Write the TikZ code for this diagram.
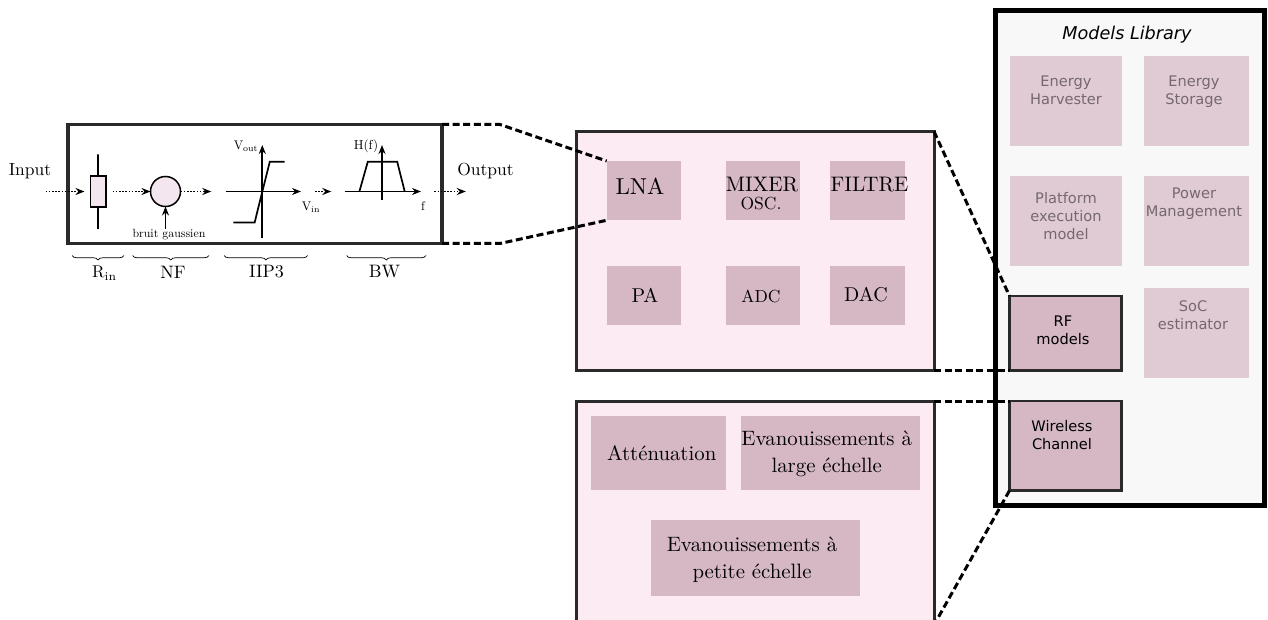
\documentclass[tikz,border=0pt]{standalone}
\usepackage{fontspec}
\newfontfamily\dejavu{DejaVu Sans}
\usetikzlibrary{arrows.meta,fit,decorations.pathreplacing,calc}
\definecolor{panelfill}{HTML}{FDEBF4}
\definecolor{boxfill}{HTML}{D5B8C4}
\definecolor{fadefill}{HTML}{E0CAD3}
\definecolor{libfill}{HTML}{F8F8F8}
\definecolor{fadetext}{HTML}{75696E}
\definecolor{blockedge}{HTML}{2A2A2A}
\definecolor{elemfill}{HTML}{F3E6EF}
\newcommand{\fs}[2]{\fontsize{#1}{#2}\selectfont}
\tikzset{
  x=1pt,y=-1pt,
  panel/.style={draw=blockedge,line width=3pt,fill=panelfill,inner sep=0pt,outer sep=0pt},
  block/.style={draw=blockedge,line width=3.2pt,fill=white,inner sep=0pt,outer sep=0pt},
  library/.style={draw=black,line width=5pt,fill=libfill,inner sep=0pt,outer sep=0pt},
  sub/.style={fill=boxfill,inner sep=0pt,outer sep=0pt},
  fade/.style={fill=fadefill,inner sep=0pt,outer sep=0pt},
  active/.style={draw=blockedge,line width=2.6pt,fill=boxfill,inner sep=0pt,outer sep=0pt},
  lab/.style={inner sep=0pt,outer sep=0pt,align=center,text=black},
  lm/.style 2 args={lab,scale=#1,font=\fs{10}{#2}},
  faded/.style={lab,font=\dejavu\fs{14.6}{18.4},text=fadetext},
  lib/.style={lab,font=\dejavu\fs{14.6}{18.4}},
  link/.style={line width=3pt,dash pattern=on 7pt off 3.6pt,draw=black},
  flow/.style={line width=1.6pt,dash pattern=on 1.6pt off 1.6pt,-{Stealth[length=9pt,width=7pt]}},
  axis/.style={line width=1.7pt,-{Stealth[length=9pt,width=7pt]}},
  trace/.style={line width=1.7pt},
  bracex/.style={draw=black,line width=.7pt,decorate,decoration={brace,mirror,amplitude=4.5pt}},
}
\begin{document}
\begin{tikzpicture}
\useasboundingbox (0,0) rectangle (1268,620);
\clip (0,0) rectangle (1268,620);

% Models library
\node[library,fit={(995,11)(1264,505)}] (library) {};
\node[lab,font=\dejavu\itshape\fs{17.6}{20}] (libtitle) at (1127,35) {Models Library};
\node[fade,fit={(1009.5,56)(1121.7,145.7)}] (harv) {};
\node[fade,fit={(1144,56)(1248.7,145.7)}] (stor) {};
\node[fade,fit={(1009.5,175.7)(1121.7,265.7)}] (plat) {};
\node[fade,fit={(1144,175.7)(1248.7,265.7)}] (pmgt) {};
\node[fade,fit={(1144,288)(1248.7,377.7)}] (soc) {};
\node[active,fit={(1009.5,296)(1121.7,370.5)}] (rf) {};
\node[active,fit={(1009.5,401)(1121.7,490.5)}] (chan) {};
\node[faded] (harvt) at (1066,90) {Energy\\Harvester};
\node[faded] (stort) at (1194,91.5) {Energy\\Storage};
\node[faded] (platt) at (1066,216) {Platform\\execution\\model};
\node[faded] (pmgtt) at (1194,203.5) {Power\\Management};
\node[faded] (soct) at (1193,315) {SoC\\estimator};
\node[lib] (rft) at (1063,330) {RF\\models};
\node[lib] (chant) at (1062,435) {Wireless\\Channel};

% RF panel
\node[panel,fit={(576,131.5)(934,370.5)}] (rfpanel) {};
\node[sub,fit={(606.7,161)(680.7,220.3)}] (lna) {};
\node[sub,fit={(725.7,161)(800.3,220.3)}] (mixer) {};
\node[sub,fit={(830.3,161)(904.7,220.3)}] (filtre) {};
\node[sub,fit={(606.7,265.7)(680.7,325.3)}] (pa) {};
\node[sub,fit={(725.7,265.7)(800.3,325.3)}] (adc) {};
\node[sub,fit={(830.3,265.7)(904.7,325.3)}] (dac) {};
\node[lm={2.3}{12}] (lnat) at (640,186) {LNA};
\node[lm={2.1}{12}] (mixt) at (762,184.5) {MIXER};
\node[lm={1.75}{12}] (osct) at (761,204) {OSC.};
\node[lm={2.1}{12}] (filt) at (869.5,184.5) {FILTRE};
\node[lm={2}{12}] (pat) at (645,295) {PA};
\node[lm={1.75}{12}] (adct) at (761,296) {ADC};
\node[lm={2}{12}] (dact) at (866,295) {DAC};

% Channel panel
\node[panel,fit={(576,401)(934,660)}] (chpanel) {};
\node[sub,fit={(591,416)(726,490)}] (att) {};
\node[sub,fit={(741,416)(920,490)}] (large) {};
\node[sub,fit={(651,520)(860,596)}] (petite) {};
\node[lm={2.08}{13}] (attt) at (661.7,453.5) {Atténuation};
\node[lm={2.08}{13}] (larget) at (826.7,454) {Evanouissements à\\large échelle};
\node[lm={2.08}{13}] (petitet) at (752,559.5) {Evanouissements à\\petite échelle};

% Radio block
\node[block,fit={(68,124.5)(442,243.5)}] (rxblock) {};
\coordinate (in0) at (45.5,191.5);
\coordinate (in1) at (84.5,191.5);
\node[draw=black,line width=1.5pt,fill=elemfill,inner sep=0pt,outer sep=0pt,fit={(90.3,176)(105.8,207)}] (res) {};
\coordinate (resT) at (98,154.3);
\coordinate (resB) at (98,229);
\draw[trace] (resT) -- (res.north);
\draw[trace] (res.south) -- (resB);
\draw[flow] (in0) -- (in1);
\coordinate (r1) at (112.6,191.5);
\node[circle,draw=black,line width=1.5pt,fill=elemfill,minimum size=30pt,inner sep=0pt,outer sep=0pt] (noise) at (165.5,191.5) {};
\draw[flow] (r1) -- (noise.west);
\coordinate (n1) at (211.3,191.5);
\draw[flow] (noise.east) -- (n1);
\coordinate (nB) at (165.5,229);
\draw[axis] (nB) -- (noise.south);
\node[lm={1.19}{12}] (bruit) at (169,234.5) {bruit gaussien};

% IIP3
\coordinate (aL) at (225.5,191.5);
\coordinate (aR) at (301,191.5);
\coordinate (aB) at (262.3,238.5);
\coordinate (aT) at (262.3,145);
\draw[axis] (aL) -- (aR);
\draw[axis] (aB) -- (aT);
\draw[trace] (233.3,222.6) -- (254.6,222.6) -- (269.8,161.7) -- (284.6,161.7);
\node[lm={1.25}{12}] (vout) at (246,146.5) {V$_{\mathrm{out}}$};
\node[lm={1.25}{12}] (vin) at (311,207.4) {V$_{\mathrm{in}}$};
\coordinate (d0) at (315,191.5);
\coordinate (d1) at (331.3,191.5);
\draw[flow] (d0) -- (d1);

% BW
\coordinate (bL) at (344.8,191.5);
\coordinate (bR) at (421,191.5);
\coordinate (bB) at (382,199.6);
\coordinate (bT) at (382,145);
\draw[axis] (bL) -- (bR);
\draw[axis] (bB) -- (bT);
\draw[trace] (359.4,191.5) -- (367.8,161.7) -- (397.2,161.7) -- (404.7,191.5);
\node[lm={1.3}{12}] (hf) at (366,146.5) {H(f)};
\node[lm={1.25}{12}] (ft) at (423,206.5) {f};
\coordinate (o0) at (434.4,191.5);
\coordinate (o1) at (465.8,191.5);
\draw[flow] (o0) -- (o1);

\node[lm={1.75}{12}] (input) at (30,171) {Input};
\node[lm={1.75}{12}] (output) at (485.5,171) {Output};

% Braces
\coordinate (b1a) at (72,255.5); \coordinate (b1b) at (124,255.5);
\coordinate (b2a) at (132.5,255.5); \coordinate (b2b) at (209,255.5);
\coordinate (b3a) at (224,255.5); \coordinate (b3b) at (307.6,255.5);
\coordinate (b4a) at (346.5,255.5); \coordinate (b4b) at (426,255.5);
\draw[bracex] (b1a) -- (b1b);
\draw[bracex] (b2a) -- (b2b);
\draw[bracex] (b3a) -- (b3b);
\draw[bracex] (b4a) -- (b4b);
\node[lm={1.7}{12}] (rin) at (104.5,273) {R$_{\mathrm{in}}$};
\node[lm={1.8}{12}] (nf) at (173,272) {NF};
\node[lm={1.8}{12}] (iip) at (266.6,272) {IIP3};
\node[lm={1.8}{12}] (bw) at (384.6,272) {BW};

% Zoom connectors
\coordinate (e1) at (500,124.5);
\coordinate (e2) at (500,243.5);
\coordinate (e3) at (934,625);
\draw[link] (rxblock.north east) -- (e1) -- (lna.north west);
\draw[link] (rxblock.south east) -- (e2) -- (lna.south west);
\draw[link] (rfpanel.north east) -- (rf.north west);
\draw[link] (rfpanel.south east) -- (rf.south west);
\draw[link] (chpanel.north east) -- (chan.north west);
\draw[link] (chan.south west) -- (e3);
\end{tikzpicture}
\end{document}
